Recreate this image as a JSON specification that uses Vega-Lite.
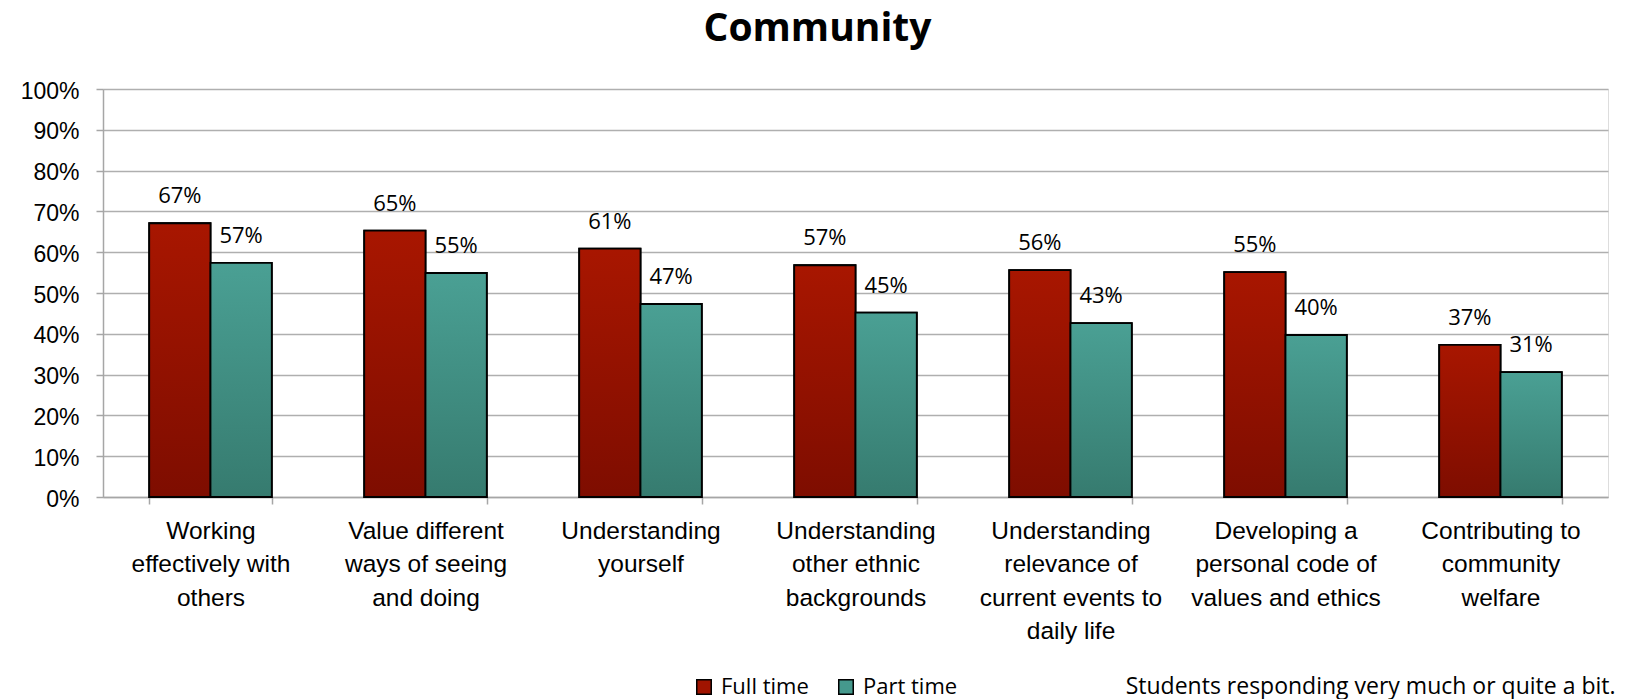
{
  "$schema": "https://vega.github.io/schema/vega-lite/v6.json",
  "autosize": {"type": "none"},
  "width": 1505,
  "height": 408,
  "padding": {"left": 103, "top": 89, "right": 17, "bottom": 202},
  "background": "white",
  "title": {
    "text": "Community",
    "font": "Open Sans",
    "fontWeight": "bold",
    "fontSize": 39,
    "color": "black",
    "anchor": "middle",
    "dx": -38,
    "baseline": "bottom",
    "offset": -8
  },
  "data": {
    "values": [
      {"item": "Working effectively with others", "type": "Full time", "share": 0.671},
      {"item": "Working effectively with others", "type": "Part time", "share": 0.574},
      {"item": "Value different ways of seeing and doing", "type": "Full time", "share": 0.653},
      {"item": "Value different ways of seeing and doing", "type": "Part time", "share": 0.549},
      {"item": "Understanding yourself", "type": "Full time", "share": 0.609},
      {"item": "Understanding yourself", "type": "Part time", "share": 0.473},
      {"item": "Understanding other ethnic backgrounds", "type": "Full time", "share": 0.568},
      {"item": "Understanding other ethnic backgrounds", "type": "Part time", "share": 0.452},
      {"item": "Understanding relevance of current events to daily life", "type": "Full time", "share": 0.556},
      {"item": "Understanding relevance of current events to daily life", "type": "Part time", "share": 0.426},
      {"item": "Developing a personal code of values and ethics", "type": "Full time", "share": 0.551},
      {"item": "Developing a personal code of values and ethics", "type": "Part time", "share": 0.397},
      {"item": "Contributing to community welfare", "type": "Full time", "share": 0.373},
      {"item": "Contributing to community welfare", "type": "Part time", "share": 0.306}
    ]
  },
  "encoding": {
    "x": {
      "field": "item",
      "type": "nominal",
      "sort": null,
      "scale": {"paddingInner": 0.43, "paddingOuter": 0.215},
      "axis": {
        "title": "Students responding very much or quite a bit.",
        "titleFont": "Open Sans",
        "titleFontSize": 23,
        "titleFontWeight": "normal",
        "titleColor": "black",
        "titleAnchor": "end",
        "titleAlign": "right",
        "titleBaseline": "alphabetic",
        "titleX": 1512,
        "titleY": 196,
        "labelAngle": 0,
        "labelFont": "Liberation Sans",
        "labelFontSize": 24.5,
        "labelColor": "black",
        "labelLineHeight": 33.5,
        "labelBaseline": "top",
        "labelPadding": 15,
        "labelLimit": 0,
        "labelOverlap": false,
        "labelExpr": "datum.value == 'Working effectively with others' ? ['Working', 'effectively with', 'others'] : datum.value == 'Value different ways of seeing and doing' ? ['Value different', 'ways of seeing', 'and doing'] : datum.value == 'Understanding yourself' ? ['Understanding', 'yourself'] : datum.value == 'Understanding other ethnic backgrounds' ? ['Understanding', 'other ethnic', 'backgrounds'] : datum.value == 'Understanding relevance of current events to daily life' ? ['Understanding', 'relevance of', 'current events to', 'daily life'] : datum.value == 'Developing a personal code of values and ethics' ? ['Developing a', 'personal code of', 'values and ethics'] : datum.value == 'Contributing to community welfare' ? ['Contributing to', 'community', 'welfare'] : ''",
        "tickBand": "extent",
        "tickSize": 7,
        "tickColor": "#A6A6A6",
        "tickWidth": 1.5,
        "domainColor": "#A6A6A6",
        "domainWidth": 1.5,
        "grid": false
      }
    },
    "xOffset": {"field": "type", "type": "nominal", "scale": {"paddingInner": 0, "paddingOuter": 0}},
    "y": {
      "field": "share",
      "type": "quantitative",
      "scale": {"domain": [0, 1], "nice": false},
      "axis": {
        "title": null,
        "format": ".0%",
        "values": [0, 0.1, 0.2, 0.3, 0.4, 0.5, 0.6, 0.7, 0.8, 0.9, 1],
        "labelFont": "Liberation Sans",
        "labelFontSize": 23,
        "labelColor": "black",
        "labelPadding": 17,
        "labelOffset": 2,
        "tickSize": 7,
        "tickColor": "#A6A6A6",
        "tickWidth": 1.5,
        "domainColor": "#A6A6A6",
        "domainWidth": 1.5,
        "grid": true,
        "gridColor": "#AFAFAF",
        "gridWidth": 1.5
      }
    }
  },
  "layer": [
    {
      "mark": {"type": "bar", "stroke": "black", "strokeWidth": 1.8, "opacity": 1},
      "encoding": {
        "color": {
          "field": "type",
          "type": "nominal",
          "scale": {"domain": ["Full time", "Part time"], "range": ["#A01400", "#45998D"]},
          "legend": {
            "title": null,
            "orient": "none",
            "direction": "horizontal",
            "legendX": 590,
            "legendY": 587,
            "symbolType": "square",
            "symbolSize": 210,
            "symbolStrokeColor": "black",
            "symbolStrokeWidth": 1.5,
            "symbolOpacity": 1,
            "labelFont": "Open Sans",
            "labelFontSize": 22,
            "labelColor": "black",
            "labelOffset": 6,
            "columnPadding": 26
          }
        },
        "stroke": {"value": "black"}
      }
    },
    {
      "mark": {"type": "bar", "stroke": "black", "strokeWidth": 1.8},
      "encoding": {
        "fill": {
          "condition": {
            "test": "datum.type === 'Full time'",
            "value": {"gradient": "linear", "x1": 0, "y1": 0, "x2": 0, "y2": 1, "stops": [{"offset": 0, "color": "#A81600"}, {"offset": 1, "color": "#7E0D00"}]}
          },
          "value": {"gradient": "linear", "x1": 0, "y1": 0, "x2": 0, "y2": 1, "stops": [{"offset": 0, "color": "#4AA094"}, {"offset": 1, "color": "#367B6F"}]}
        }
      }
    },
    {
      "mark": {"type": "text", "font": "Open Sans", "fontSize": 22, "color": "black", "baseline": "alphabetic", "dy": -20},
      "encoding": {
        "text": {"field": "share", "type": "quantitative", "format": ".0%"}
      }
    }
  ]
}
